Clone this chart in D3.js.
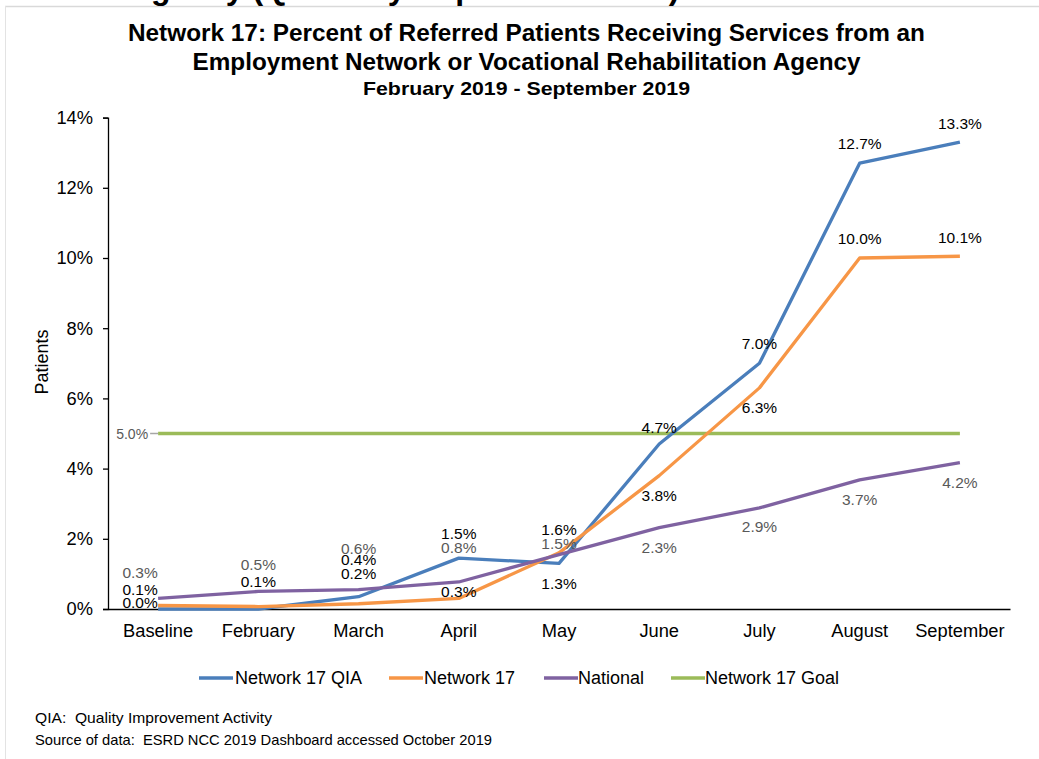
<!DOCTYPE html>
<html>
<head>
<meta charset="utf-8">
<script src="https://cdn.jsdelivr.net/npm/d3@7"></script>
<style>
  html, body { margin: 0; padding: 0; background: #fff; }
  svg { display: block; }
  text { font-family: "Liberation Sans", Arial, sans-serif; }
  .pre { white-space: pre; }
</style>
</head>
<body>
<svg id="chart" width="1039" height="759"></svg>
<script>
// ---------- DATA ----------
const categories = ["Baseline", "February", "March", "April", "May", "June", "July", "August", "September"];
const qiaValues      = [0.000, 0.000, 0.0035, 0.0145, 0.0130, 0.047, 0.070, 0.127, 0.133];
const qiaLabels      = ["0.0%", "", "0.4%", "1.5%", "1.3%", "4.7%", "7.0%", "12.7%", "13.3%"];
const network17Values = [0.001, 0.0007, 0.0015, 0.003, 0.016, 0.038, 0.063, 0.100, 0.1005];
const network17Labels = ["0.1%", "0.1%", "0.2%", "0.3%", "1.6%", "3.8%", "6.3%", "10.0%", "10.1%"];
const nationalValues = [0.003, 0.005, 0.0055, 0.0077, 0.0155, 0.0232, 0.0288, 0.0368, 0.0417];
const nationalLabels = ["0.3%", "0.5%", "0.6%", "0.8%", "1.5%", "2.3%", "2.9%", "3.7%", "4.2%"];
const goalValue = 0.05;
const goalLabel = "5.0%";
const yTicks = [0, 0.02, 0.04, 0.06, 0.08, 0.10, 0.12, 0.14];
const seriesNames = ["Network 17 QIA", "Network 17", "National", "Network 17 Goal"];

const titleLines = [
  "Network 17: Percent of Referred Patients Receiving Services from an",
  "Employment Network or Vocational Rehabilitation Agency"
];
const subtitle = "February 2019 - September 2019";
const yAxisTitle = "Patients";
const footnotes = [
  "QIA:  Quality Improvement Activity",
  "Source of data:  ESRD NCC 2019 Dashboard accessed October 2019"
];
const cutOffHeading = "Agency (Quarterly Report Overview)";

// ---------- LAYOUT / STYLE ----------
const colors = ["#4A7EBB", "#F79646", "#7F62A1", "#9BBB59"];
const qiaLabelDy      = [-7, 0, -37, -25, 20, -17, -20, -20, -19];
const network17LabelDy = [-16, -25, -30, -7, -23, 20, 20, -20, -19];
const nationalLabelDy = [-26, -27, -41, -34, -11, 20, 19, 20, 20];
const firstLabelDx = -18;
const titleWidths = [797, 668];
const subtitleWidth = 327;
const footnoteWidths = [237, 457];

const svg = d3.select("#chart");
const margin = { left: 108, right: 1010, top: 117.6, bottom: 609 };

// Frame (slide border)
svg.append("line").attr("x1", 5).attr("x2", 1039).attr("y1", 6.5).attr("y2", 6.5)
  .attr("stroke", "#d9d9d9").attr("stroke-width", 1.5);
svg.append("line").attr("x1", 5.5).attr("x2", 5.5).attr("y1", 6).attr("y2", 759)
  .attr("stroke", "#e3e3e3").attr("stroke-width", 1);

// Cut-off heading from the slide above (only the bottom is visible)
svg.append("defs").append("clipPath").attr("id", "topclip")
  .append("rect").attr("x", 0).attr("y", 0).attr("width", 1039).attr("height", 6);
svg.append("text").attr("clip-path", "url(#topclip)")
  .attr("x", 128).attr("y", -1.5)
  .attr("font-size", 32).attr("font-weight", "bold").attr("fill", "#000")
  .text(cutOffHeading);

// Titles
titleLines.forEach((t, i) => {
  svg.append("text").attr("x", 526.5).attr("y", 41 + i * 29)
    .attr("text-anchor", "middle").attr("font-size", 23.5).attr("font-weight", "bold")
    .attr("textLength", titleWidths[i]).attr("lengthAdjust", "spacingAndGlyphs")
    .attr("fill", "#000").text(t);
});
svg.append("text").attr("x", 526.5).attr("y", 95)
  .attr("text-anchor", "middle").attr("font-size", 19).attr("font-weight", "bold")
  .attr("textLength", subtitleWidth).attr("lengthAdjust", "spacingAndGlyphs")
  .attr("fill", "#000").text(subtitle);

// Scales
const x = d3.scaleBand().domain(categories).range([margin.left, margin.right]).padding(0);
const cx = d => x(d) + x.bandwidth() / 2;
const y = d3.scaleLinear().domain([0, 0.14]).range([margin.bottom, margin.top]);

// Y axis
const yAxis = d3.axisLeft(y).tickValues(yTicks).tickFormat(d3.format(".0%")).tickSize(5).tickPadding(10);
const yg = svg.append("g").attr("transform", `translate(${margin.left},0)`).call(yAxis);
yg.select(".domain").attr("stroke", "#000").attr("stroke-width", 1.3);
yg.selectAll(".tick line").attr("stroke", "#000").attr("stroke-width", 1.3);
yg.selectAll(".tick text").attr("font-size", 18.3).attr("fill", "#000")
  .attr("font-family", "Liberation Sans, Arial, sans-serif");

// X axis
const xAxis = d3.axisBottom(x).tickSize(0).tickPadding(15);
const xg = svg.append("g").attr("transform", `translate(0,${margin.bottom})`).call(xAxis);
xg.select(".domain").attr("stroke", "#000").attr("stroke-width", 1.3);
xg.selectAll(".tick text").attr("font-size", 18.3).attr("fill", "#000")
  .attr("font-family", "Liberation Sans, Arial, sans-serif");

// Y axis title
svg.append("text").attr("transform", `translate(48,362) rotate(-90)`)
  .attr("text-anchor", "middle").attr("font-size", 18).attr("fill", "#000").text(yAxisTitle);

// Lines
const line = d3.line().x((d, i) => cx(categories[i])).y(d => y(d));
const goalValues = categories.map(() => goalValue);
const allSeries = [qiaValues, network17Values, nationalValues, goalValues];
const drawOrder = [3, 0, 1, 2];
drawOrder.forEach(k => {
  svg.append("path").datum(allSeries[k]).attr("d", line)
    .attr("fill", "none").attr("stroke", colors[k]).attr("stroke-width", 3.3)
    .attr("stroke-linejoin", "round");
});

// Goal label with leader
svg.append("line").attr("x1", cx(categories[0]) - 8).attr("x2", cx(categories[0]))
  .attr("y1", y(goalValue)).attr("y2", y(goalValue)).attr("stroke", "#a6a6a6").attr("stroke-width", 1.5);
svg.append("text").attr("x", cx(categories[0]) - 10).attr("y", y(goalValue))
  .attr("text-anchor", "end").attr("dominant-baseline", "central")
  .attr("font-size", 14).attr("fill", "#595959").text(goalLabel);

// Data labels
function drawLabels(values, labels, dys, color) {
  values.forEach((v, i) => {
    if (!labels[i]) return;
    svg.append("text")
      .attr("x", cx(categories[i]) + (i === 0 ? firstLabelDx : 0))
      .attr("y", y(v) + dys[i])
      .attr("text-anchor", "middle").attr("dominant-baseline", "central")
      .attr("font-size", 15.5).attr("fill", color).text(labels[i]);
  });
}
drawLabels(nationalValues, nationalLabels, nationalLabelDy, "#595959");
drawLabels(network17Values, network17Labels, network17LabelDy, "#000");
drawLabels(qiaValues, qiaLabels, qiaLabelDy, "#000");

// Legend
const legendItems = [
  { x: 199, textX: 235 },
  { x: 389, textX: 424 },
  { x: 544, textX: 578 },
  { x: 671, textX: 705 }
];
legendItems.forEach((it, i) => {
  svg.append("line").attr("x1", it.x).attr("x2", it.x + 34).attr("y1", 678).attr("y2", 678)
    .attr("stroke", colors[i]).attr("stroke-width", 3.3);
  svg.append("text").attr("x", it.textX).attr("y", 678).attr("dominant-baseline", "central")
    .attr("font-size", 18).attr("fill", "#000").text(seriesNames[i]);
});

// Footnotes
footnotes.forEach((t, i) => {
  svg.append("text").attr("class", "pre").attr("x", 35).attr("y", 723 + i * 22)
    .attr("font-size", 14.5).attr("fill", "#000")
    .attr("textLength", footnoteWidths[i]).attr("lengthAdjust", "spacingAndGlyphs")
    .attr("font-family", "Carlito, Calibri, 'Open Sans', 'Liberation Sans', sans-serif")
    .text(t);
});
</script>
</body>
</html>
